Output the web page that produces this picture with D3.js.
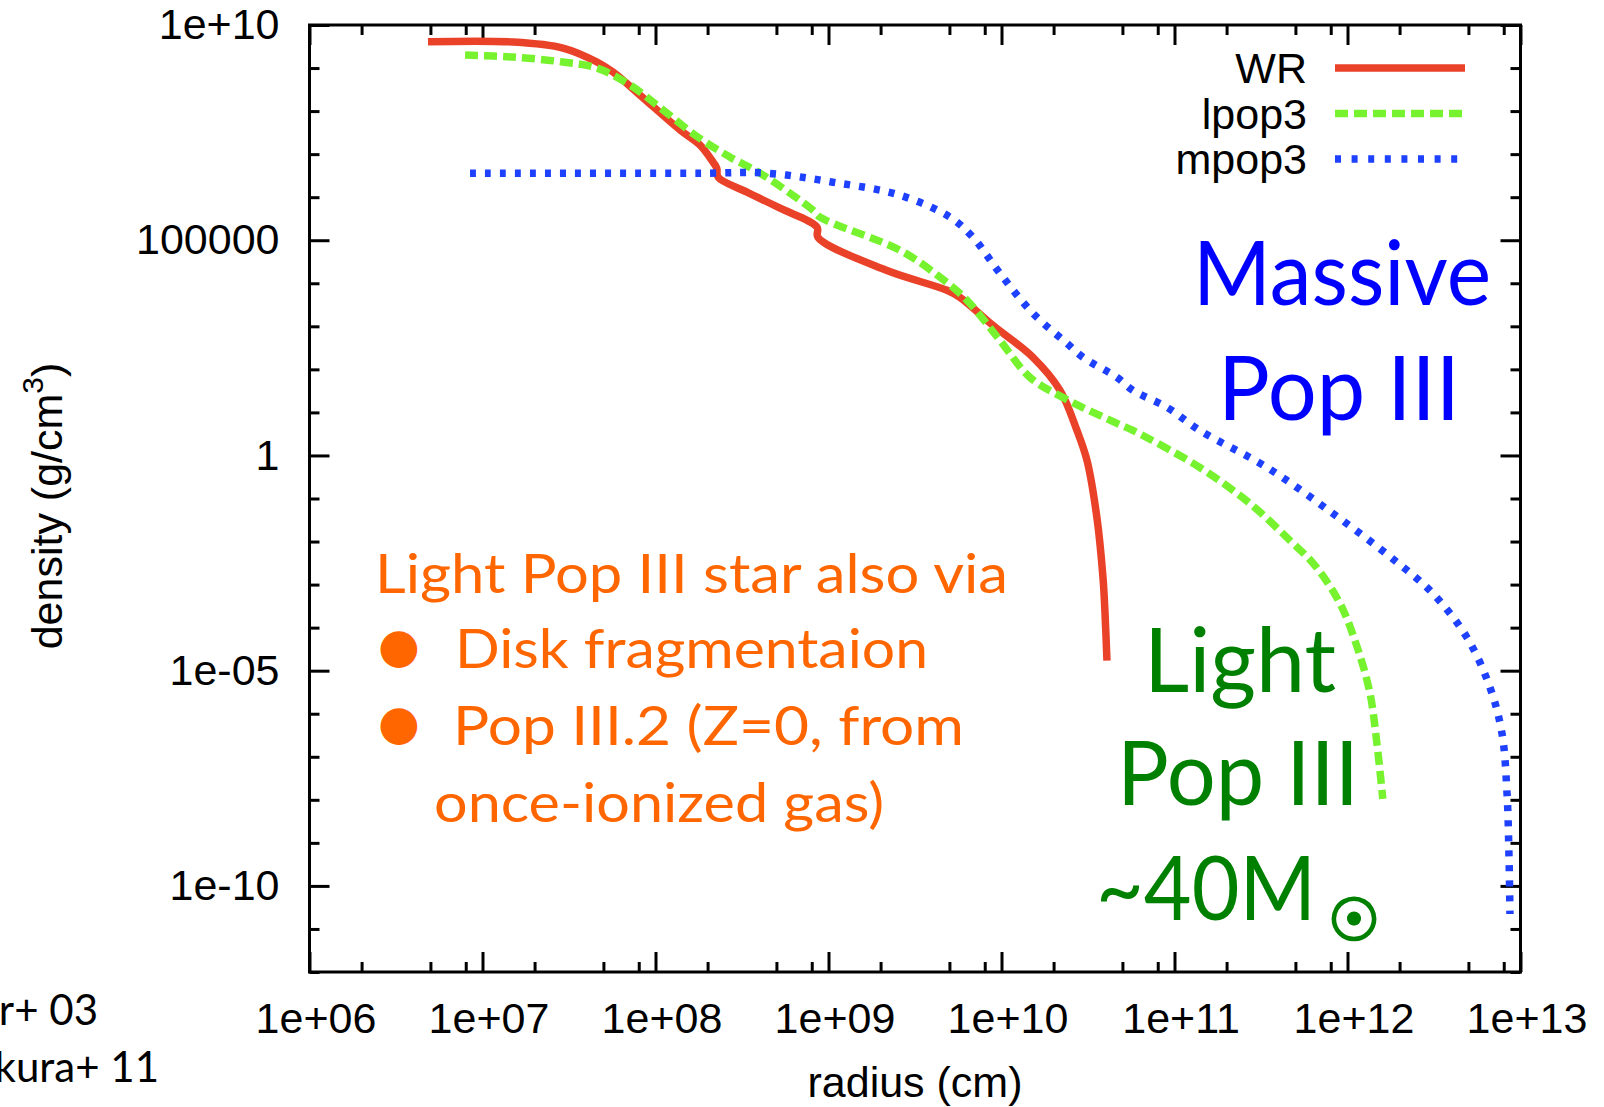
<!DOCTYPE html>
<html>
<head>
<meta charset="utf-8">
<script src="https://cdn.jsdelivr.net/npm/d3@7"></script>
<style>
  body { margin: 0; background: #fff; }
  .axis text { font-family: 'Liberation Sans', Arial, sans-serif; font-size: 43px; fill: #000; }
  .axis line { stroke: #000; stroke-width: 3; }
  .anno { font-family: Lato, sans-serif; }
</style>
</head>
<body>
<script>
// radius (cm) / density (g/cm^3)
let wrRadius = [4.84e6, 1.50e7, 2.92e7, 4.59e7, 5.68e7, 8.13e7, 1.39e8, 1.81e8, 2.15e8, 2.26e8, 2.30e8, 3.38e8, 5.25e8, 8.59e8, 8.69e8, 2.16e9, 4.84e9, 5.75e9, 8.93e9, 1.52e10, 2.18e10, 2.73e10, 3.12e10, 3.56e10, 3.86e10, 3.96e10, 4.07e10];
let wrDensity = [4.09e9, 4.03e9, 2.92e9, 1.38e9, 8.07e8, 2.36e8, 3.61e7, 1.62e7, 6.52e6, 4.72e6, 2.92e6, 1.31e6, 5.55e5, 2.00e5, 1.17e5, 2.00e4, 6.87e3, 4.72e3, 1.05e3, 190, 32.5, 3.81, 0.766, 0.0361, 1.46e-3, 2.48e-4, 1.71e-5];

let lpopRadius = [7.93e6, 1.50e7, 2.92e7, 4.59e7, 7.13e7, 1.11e8, 1.78e8, 2.70e8, 4.02e8, 8.13e8, 8.93e8, 2.59e9, 4.42e9, 6.32e9, 9.79e9, 1.46e10, 2.26e10, 4.65e10, 5.75e10, 1.40e11, 2.73e11, 4.66e11, 6.49e11, 9.06e11, 1.14e12, 1.35e12, 1.48e12, 1.60e12];
let lpopDensity = [2.00e9, 1.80e9, 1.38e9, 1.00e9, 4.03e8, 1.05e8, 2.40e7, 8.51e6, 3.61e6, 4.99e5, 3.43e5, 5.85e4, 1.38e4, 4.03e3, 472, 65.2, 22.3, 5.55, 3.81, 0.526, 0.0766, 0.0105, 2.77e-3, 3.61e-4, 3.43e-5, 2.92e-6, 2.00e-7, 1.05e-8];

let mpopRadius = [8.47e6, 1.81e8, 4.42e8, 1.06e9, 2.59e9, 5.04e9, 6.84e9, 9.79e9, 1.52e10, 2.39e10, 2.96e10, 4.65e10, 5.75e10, 9.06e10, 1.40e11, 3.43e11, 8.24e11, 1.88e12, 3.12e12, 4.91e12, 6.67e12, 7.82e12, 8.36e12, 8.59e12, 8.69e12];
let mpopDensity = [3.61e6, 3.61e6, 3.61e6, 2.23e6, 1.11e6, 3.43e5, 1.17e5, 1.71e4, 2.00e3, 403, 190, 65.2, 32.5, 13.1, 3.81, 0.526, 0.0448, 3.61e-3, 6.18e-4, 5.85e-5, 4.03e-6, 3.43e-7, 1.38e-8, 3.81e-10, 2.23e-11];

let seriesNames = ['WR', 'lpop3', 'mpop3'];
let xTickValues = [1e6, 1e7, 1e8, 1e9, 1e10, 1e11, 1e12, 1e13];
let xTickLabels = ['1e+06', '1e+07', '1e+08', '1e+09', '1e+10', '1e+11', '1e+12', '1e+13'];
let yTickValues = [1e10, 1e5, 1, 1e-5, 1e-10];
let yTickLabels = ['1e+10', '100000', '1', '1e-05', '1e-10'];

let W = 1604, H = 1107;
let margin = {left: 309.5, top: 25, right: 83.5, bottom: 135};
let width = W - margin.left - margin.right;
let height = H - margin.top - margin.bottom;

let svg = d3.select('body').append('svg')
  .attr('width', W)
  .attr('height', H)
  .style('display', 'block');

let g = svg.append('g')
  .attr('transform', 'translate(' + margin.left + ',' + margin.top + ')');

let x = d3.scaleLog().domain([1e6, 1e13]).range([0, width]);
let y = d3.scaleLog().domain([1e-12, 1e10]).range([height, 0]);

// gnuplot style minor ticks: x at 2,5,8 per decade, y at every decade
let xMinor = [];
d3.range(6, 13).forEach(e => [2, 5, 8].forEach(m => xMinor.push(Number(m + 'e' + e))));
let yMinor = d3.range(-12, 11).filter(e => e % 5 !== 0).map(e => Number('1e' + e));

let noDomain = a => a.select('.domain').remove();

g.append('g').attr('class', 'axis')
  .attr('transform', 'translate(0,' + height + ')')
  .call(d3.axisBottom(x).tickValues(xTickValues).tickFormat((d, i) => xTickLabels[i]).tickSize(-20).tickPadding(30))
  .call(noDomain)
  .selectAll('text').attr('dx', 6);
g.append('g').attr('class', 'axis')
  .attr('transform', 'translate(0,' + height + ')')
  .call(d3.axisBottom(x).tickValues(xMinor).tickFormat(() => '').tickSize(-10))
  .call(noDomain);
g.append('g').attr('class', 'axis')
  .call(d3.axisTop(x).tickValues(xTickValues).tickFormat(() => '').tickSize(-20))
  .call(noDomain);
g.append('g').attr('class', 'axis')
  .call(d3.axisTop(x).tickValues(xMinor).tickFormat(() => '').tickSize(-10))
  .call(noDomain);

g.append('g').attr('class', 'axis')
  .call(d3.axisLeft(y).tickValues(yTickValues).tickFormat((d, i) => yTickLabels[i]).tickSize(-20).tickPadding(30))
  .call(noDomain);
g.append('g').attr('class', 'axis')
  .call(d3.axisLeft(y).tickValues(yMinor).tickFormat(() => '').tickSize(-10))
  .call(noDomain);
g.append('g').attr('class', 'axis')
  .attr('transform', 'translate(' + width + ',0)')
  .call(d3.axisRight(y).tickValues(yTickValues).tickFormat(() => '').tickSize(-20))
  .call(noDomain);
g.append('g').attr('class', 'axis')
  .attr('transform', 'translate(' + width + ',0)')
  .call(d3.axisRight(y).tickValues(yMinor).tickFormat(() => '').tickSize(-10))
  .call(noDomain);

g.append('rect')
  .attr('width', width)
  .attr('height', height)
  .attr('fill', 'none')
  .attr('stroke', '#000')
  .attr('stroke-width', 3);

// curves
let series = [
  {name: seriesNames[0], r: wrRadius, rho: wrDensity, color: '#ea4129', dash: null, key: null},
  {name: seriesNames[1], r: lpopRadius, rho: lpopDensity, color: '#77f22e', dash: '13 6', key: '13 6'},
  {name: seriesNames[2], r: mpopRadius, rho: mpopDensity, color: '#1e40ff', dash: '6 9', key: '6 10.6'}
];

let line = d3.line()
  .curve(d3.curveCatmullRom.alpha(0.5))
  .x(d => x(d[0]))
  .y(d => y(d[1]));

g.selectAll('.trace')
  .data(series)
  .enter().append('path')
  .attr('class', 'trace')
  .attr('d', s => line(d3.zip(s.r, s.rho)))
  .attr('fill', 'none')
  .attr('stroke', s => s.color)
  .attr('stroke-width', 7.5)
  .attr('stroke-dasharray', s => s.dash)
  .attr('stroke-linejoin', 'round');

// legend
let legend = svg.append('g').attr('class', 'axis');
series.forEach((s, i) => {
  let ly = 68 + i * 45.5;
  legend.append('text')
    .attr('x', 1307).attr('y', ly + 15)
    .attr('text-anchor', 'end')
    .text(s.name);
  legend.append('line')
    .attr('x1', 1335).attr('x2', i === 2 ? 1459 : 1465)
    .attr('y1', ly).attr('y2', ly)
    .style('stroke', s.color)
    .style('stroke-width', 7.5)
    .style('stroke-dasharray', s.key);
});

// axis titles
svg.append('text')
  .attr('x', 915).attr('y', 1097)
  .attr('text-anchor', 'middle')
  .style('font-family', "'Liberation Sans', Arial, sans-serif")
  .style('font-size', '43px')
  .text('radius (cm)');

let yt = svg.append('text')
  .attr('transform', 'translate(62,506) rotate(-90)')
  .attr('text-anchor', 'middle')
  .style('font-family', "'Liberation Sans', Arial, sans-serif")
  .style('font-size', '43px');
yt.append('tspan').text('density (g/cm');
yt.append('tspan').attr('dy', -19).style('font-size', '30px').text('3');
yt.append('tspan').attr('dy', 19).text(')');

// slide annotations
let notes = [
  {t: 'Massive', x: 1193, y: 305, len: 298, size: 90, c: '#0000ff'},
  {t: 'Pop III', x: 1218, y: 420, len: 242, size: 90, c: '#0000ff'},
  {t: 'Light', x: 1144, y: 692, len: 192, size: 90, c: '#008000'},
  {t: 'Pop III', x: 1117, y: 805, len: 242, size: 90, c: '#008000'},
  {t: '~40M', x: 1096, y: 920, len: 220, size: 90, c: '#008000'},
  {t: 'Light Pop III star also via', x: 375, y: 593, len: 633, size: 54, c: '#ff6600'},
  {t: 'Disk fragmentaion', x: 455, y: 668, len: 473, size: 54, c: '#ff6600'},
  {t: 'Pop III.2 (Z=0, from', x: 453, y: 745, len: 511, size: 54, c: '#ff6600'},
  {t: 'once-ionized gas)', x: 434, y: 822, len: 450, size: 54, c: '#ff6600'}
];
svg.selectAll('.anno')
  .data(notes)
  .enter().append('text')
  .attr('class', 'anno')
  .attr('x', d => d.x).attr('y', d => d.y)
  .attr('textLength', d => d.len)
  .attr('lengthAdjust', 'spacingAndGlyphs')
  .style('font-size', d => d.size + 'px')
  .style('fill', d => d.c)
  .text(d => d.t);

// bullets and sun symbol
[645, 722].forEach(by => {
  svg.append('text')
    .attr('x', 399).attr('y', by)
    .attr('text-anchor', 'middle')
    .attr('dominant-baseline', 'central')
    .style('font-family', "'DejaVu Sans'")
    .style('font-size', '48px')
    .style('fill', '#ff6600')
    .text('\u25CF');
});
svg.append('text')
  .attr('x', 1354).attr('y', 920)
  .attr('text-anchor', 'middle')
  .attr('dominant-baseline', 'central')
  .style('font-family', "'DejaVu Sans'")
  .style('font-size', '58px')
  .style('fill', '#008000')
  .style('stroke', '#008000')
  .style('stroke-width', 2.5)
  .text('\u2609');
// heavier centre dot, as in the slide font
svg.append('circle')
  .attr('cx', 1354).attr('cy', 918.5)
  .attr('r', 7)
  .attr('fill', '#008000');

// citations cut at the slide edge
svg.append('text').attr('class', 'anno')
  .attr('x', 98).attr('y', 1025)
  .attr('text-anchor', 'end')
  .style('font-size', '42px')
  .text('Heger+ 03');
svg.append('text').attr('class', 'anno')
  .attr('x', 159).attr('y', 1082)
  .attr('text-anchor', 'end')
  .style('font-size', '42px')
  .text('Nagakura+ 11');
</script>
</body>
</html>
